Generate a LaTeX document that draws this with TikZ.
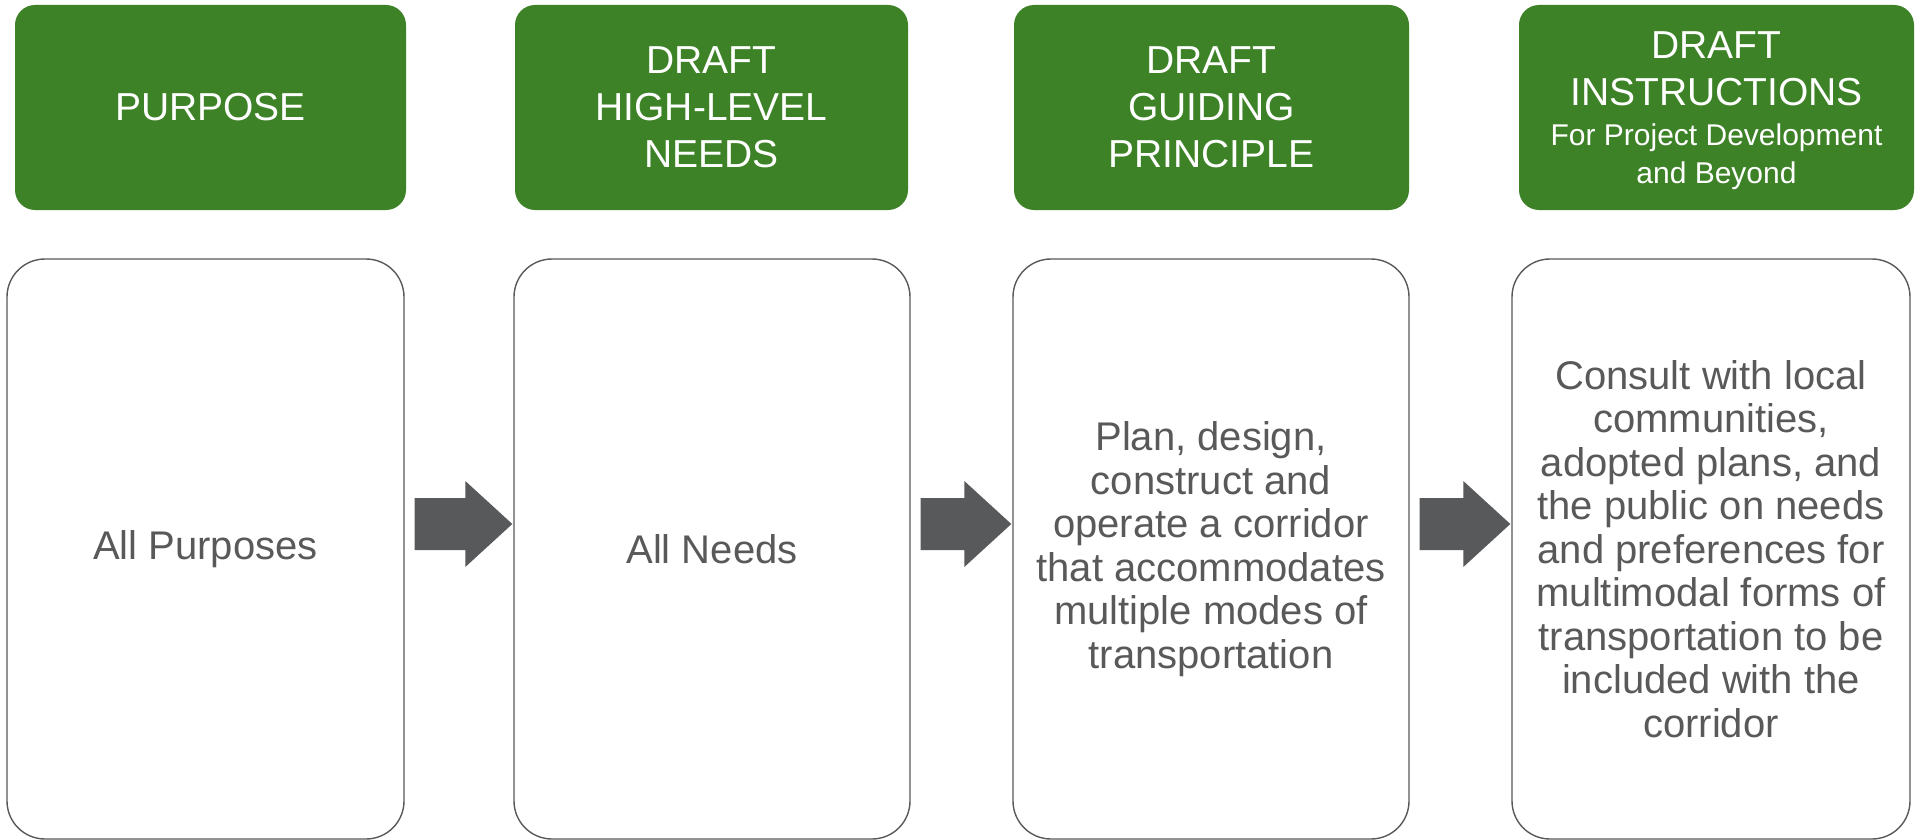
\documentclass[tikz,border=0pt]{standalone}
\usepackage{fontspec}
\setmainfont{Liberation Sans}
\usetikzlibrary{calc}
\definecolor{hdgreen}{RGB}{62,130,39}
\definecolor{arrowgray}{RGB}{88,89,91}
\definecolor{txtgray}{RGB}{89,89,89}
\newcommand{\flowarrow}[2]{%
  \fill[arrowgray] let \p1=(#1.east), \p2=(#2.west) in
    (\x1+10pt,\y1+51pt) -- (\x2-48pt,\y1+51pt) -- (\x2-48pt,\y1+68pt) --
    (\x2-1pt,\y1+25pt) -- (\x2-48pt,\y1-18pt) -- (\x2-48pt,\y1-1pt) --
    (\x1+10pt,\y1-1pt) -- cycle;}
\begin{document}
\begin{tikzpicture}[x=1pt,y=-1pt,
  head/.style={fill=hdgreen, rounded corners=20pt, text=white, align=center,
    font=\fontsize{39}{47}\selectfont, inner sep=0pt, minimum height=205pt},
  card/.style={draw=txtgray, line width=1.4pt, fill=white, rounded corners=38pt,
    text=txtgray, align=center, font=\fontsize{40}{43.5}\selectfont,
    inner sep=0pt, minimum height=580pt}]
\useasboundingbox (0,0) rectangle (1920,840);
\fill[white] (0,0) rectangle (1920,840);

% headers
\node[head, minimum width=391pt] (g1) at (210.5,107.5) {PURPOSE};
\node[head, minimum width=393pt] (g2) at (711.5,107.5) {DRAFT\\HIGH-LEVEL\\NEEDS};
\node[head, minimum width=395pt] (g3) at (1211.5,107.5) {DRAFT\\GUIDING\\PRINCIPLE};
\node[head, minimum width=395pt, text depth=0pt] (g4) at (1716.5,107.5)
  {DRAFT\\INSTRUCTIONS\\[-7pt]{\fontsize{30}{37}\selectfont For Project Development}\\[-9pt]{\fontsize{30}{37}\selectfont and Beyond}};

% cards
\node[card, minimum width=397pt] (w1) at (205.5,549) {All Purposes};
\node[card, minimum width=396pt] (w2) at (712,549) {All Needs};
\node[card, minimum width=396pt] (w3) at (1211,549)
  {Plan, design,\\construct and\\operate a corridor\\that accommodates\\multiple modes of\\transportation};
\node[card, minimum width=398pt] (w4) at (1711,549)
  {Consult with local\\communities,\\adopted plans, and\\the public on needs\\and preferences for\\multimodal forms of\\transportation to be\\included with the\\corridor};

% block arrows
\flowarrow{w1}{w2}
\flowarrow{w2}{w3}
\flowarrow{w3}{w4}
\end{tikzpicture}
\end{document}
